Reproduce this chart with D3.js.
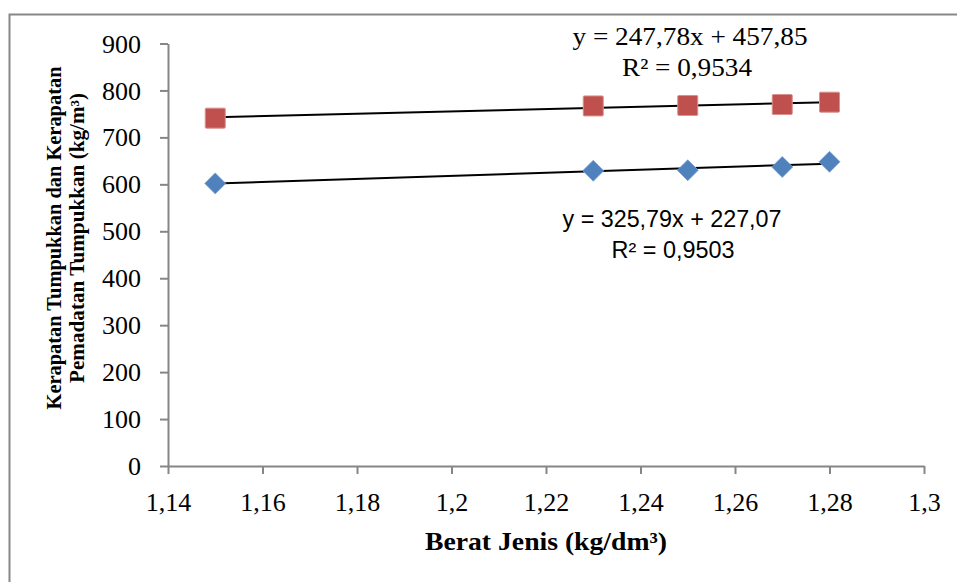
<!DOCTYPE html>
<html><head><meta charset="utf-8">
<script src="https://cdn.jsdelivr.net/npm/d3@7"></script>
<style>body{margin:0;background:#fff}svg{display:block}</style>
</head><body>
<svg id="c" width="957" height="582"></svg>
<script>
const xValues = [1.15, 1.23, 1.25, 1.27, 1.28];
const pemadatan = [741, 767, 768, 770, 775];   // red squares
const kerapatan = [602, 629, 630, 637, 648];   // blue diamonds
const trendRed = {a: 247.78, b: 457.85, eq: "y = 247,78x + 457,85", r2: "R² = 0,9534"};
const trendBlue = {a: 325.79, b: 227.07, eq: "y = 325,79x + 227,07", r2: "R² = 0,9503"};
const xTicks = [1.14, 1.16, 1.18, 1.2, 1.22, 1.24, 1.26, 1.28, 1.3];
const yTicks = [0, 100, 200, 300, 400, 500, 600, 700, 800, 900];

const svg = d3.select("#c");
const serif = "'Liberation Serif', 'DejaVu Serif', serif";
const sans = "'Liberation Sans', Arial, sans-serif";

svg.append("rect").attr("x", 9.5).attr("y", 14.5).attr("width", 960).attr("height", 600)
  .attr("fill", "none").attr("stroke", "#888").attr("stroke-width", 2);

const x = d3.scaleLinear().domain([1.14, 1.3]).range([168, 924]);
const y = d3.scaleLinear().domain([0, 900]).range([466, 43.5]);
const fmt = d => String(d).replace(".", ",");

const gx = svg.append("g").attr("transform", "translate(0,466)")
  .call(d3.axisBottom(x).tickValues(xTicks).tickFormat(fmt).tickSize(8).tickSizeOuter(0));
const gy = svg.append("g").attr("transform", "translate(168,0)")
  .call(d3.axisLeft(y).tickValues(yTicks).tickFormat(d => d).tickSize(8).tickSizeOuter(0));
[gx, gy].forEach(g => {
  g.select(".domain").attr("stroke", "#868686").attr("stroke-width", 2);
  g.selectAll(".tick line").attr("stroke", "#868686").attr("stroke-width", 2);
  g.selectAll(".tick text").attr("fill", "#000").style("font-family", serif).style("font-size", "26px");
});
gx.selectAll(".tick text").attr("dy", "0").attr("y", 45);
gy.selectAll(".tick text").attr("x", -27).attr("dy", "0.33em");

// trendlines
[trendRed, trendBlue].forEach(t => {
  const x0 = d3.min(xValues), x1 = d3.max(xValues);
  svg.append("line").attr("x1", x(x0)).attr("y1", y(t.a * x0 + t.b))
    .attr("x2", x(x1)).attr("y2", y(t.a * x1 + t.b))
    .attr("stroke", "#000").attr("stroke-width", 2);
});

// markers
svg.append("g").selectAll("rect").data(xValues).join("rect")
  .attr("x", (d) => x(d) - 10).attr("y", (d, i) => y(pemadatan[i]) - 10)
  .attr("width", 20).attr("height", 20).attr("rx", 1)
  .attr("fill", "#C0504D").attr("stroke", "#D9908E").attr("stroke-width", 1);
svg.append("g").selectAll("path").data(xValues).join("path")
  .attr("transform", (d, i) => `translate(${x(d)},${y(kerapatan[i])})`)
  .attr("d", "M0,-10.5L10.5,0L0,10.5L-10.5,0Z")
  .attr("fill", "#4F81BD").attr("stroke", "#7FA3D0").attr("stroke-width", 0.8);

// equations
function fitText(sel, txt, cx, by, len) {
  sel.append("tspan").attr("x", cx).attr("y", by).attr("textLength", len)
    .attr("lengthAdjust", "spacingAndGlyphs").text(txt);
}
const eqR = svg.append("text").attr("text-anchor", "middle").style("font-family", serif).style("font-size", "25px");
fitText(eqR, trendRed.eq, 690, 45, 235);
fitText(eqR, trendRed.r2, 687, 76, 130);
const eqB = svg.append("text").attr("text-anchor", "middle").style("font-family", sans).style("font-size", "23px");
fitText(eqB, trendBlue.eq, 672, 227, 219);
fitText(eqB, trendBlue.r2, 673, 258, 123);

// axis titles
const xt = svg.append("text").attr("text-anchor", "middle")
  .style("font-family", serif).style("font-size", "25px").style("font-weight", "bold");
fitText(xt, "Berat Jenis (kg/dm³)", 546, 550, 242);
const yt = svg.append("text").attr("transform", "translate(0,238) rotate(-90)").attr("text-anchor", "middle")
  .style("font-family", serif).style("font-size", "20px").style("font-weight", "bold");
fitText(yt, "Kerapatan Tumpukkan dan Kerapatan", 0, 61, 343);
fitText(yt, "Pemadatan Tumpukkan (kg/m³)", 0, 84, 290);
</script>
</body></html>
